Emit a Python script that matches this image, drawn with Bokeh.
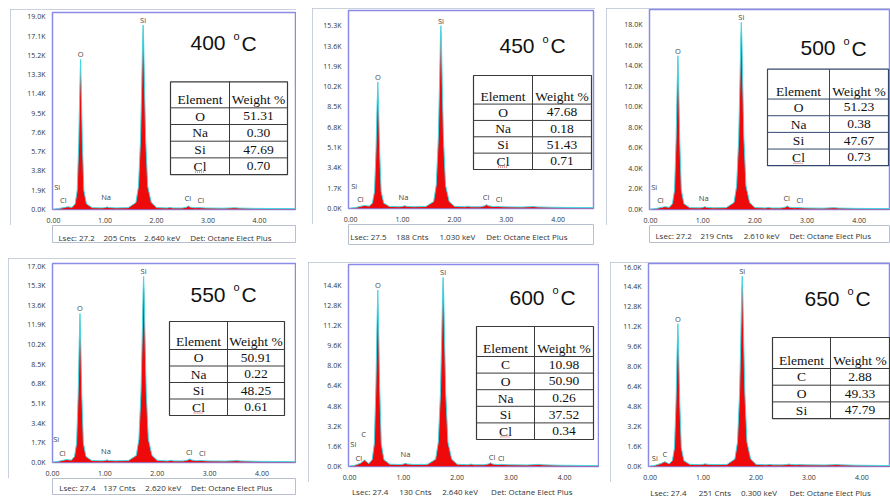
from bokeh.plotting import figure
from bokeh.layouts import row, column
from bokeh.models import Range1d, FixedTicker
from bokeh.embed import file_html
from bokeh.resources import INLINE
from bokeh.core.properties import value

# ---------------- data ----------------
energy_kev = [0.00, 0.10, 0.20, 0.25, 0.28, 0.31, 0.36, 0.42, 0.46, 0.49, 0.51, 0.525, 0.54, 0.56,
              0.59, 0.64, 0.75, 0.95, 1.01, 1.04, 1.07, 1.20, 1.45, 1.60, 1.65, 1.69, 1.715, 1.73,
              1.74, 1.75, 1.765, 1.79, 1.83, 1.90, 2.00, 2.20, 2.26, 2.32, 2.50, 2.58, 2.62, 2.66,
              2.75, 2.82, 2.95, 3.30, 3.45, 3.52, 3.60, 3.90, 4.40, 5.00]

counts_400 = [30, 90, 190, 240, 270, 240, 210, 560, 1880, 6700, 11850, 14800, 11850, 6700, 1880, 560,
              180, 160, 200, 260, 200, 160, 180, 680, 2280, 6980, 12750, 16750, 18200, 16750, 12750,
              6980, 2280, 680, 190, 150, 200, 150, 150, 230, 340, 230, 170, 190, 150, 130, 160, 180,
              140, 110, 90, 70]
counts_450 = [30, 90, 190, 240, 260, 230, 200, 450, 1400, 4850, 8500, 10600, 8500, 4850, 1400, 450,
              170, 150, 190, 240, 190, 150, 170, 580, 1950, 5870, 10720, 14080, 15300, 14080, 10720,
              5870, 1950, 580, 180, 140, 190, 140, 140, 220, 320, 220, 160, 180, 140, 120, 150, 170,
              130, 100, 80, 60]
counts_500 = [30, 90, 200, 250, 280, 250, 210, 570, 1900, 6800, 12000, 15000, 12000, 6800, 1900, 570,
              180, 160, 210, 280, 210, 160, 180, 680, 2290, 7000, 12800, 16800, 18250, 16800, 12800,
              7000, 2290, 680, 190, 150, 200, 150, 150, 230, 350, 230, 170, 190, 150, 130, 160, 180,
              140, 110, 90, 70]
counts_550 = [30, 90, 190, 240, 260, 230, 200, 510, 1670, 5900, 10350, 12900, 10350, 5900, 1670, 510,
              170, 150, 180, 230, 180, 150, 170, 610, 2040, 6200, 11300, 14820, 16100, 14820, 11300,
              6200, 2040, 610, 180, 140, 190, 140, 140, 210, 310, 210, 160, 180, 140, 120, 150, 170,
              130, 100, 80, 60]
counts_600 = [30, 100, 260, 420, 520, 400, 230, 540, 1800, 6400, 11250, 14000, 11250, 6400, 1800, 540,
              180, 160, 200, 260, 200, 160, 170, 580, 1920, 5780, 10520, 13810, 15000, 13810, 10520,
              5780, 1920, 580, 180, 140, 190, 140, 140, 200, 290, 200, 150, 170, 140, 120, 150, 170,
              130, 100, 80, 60]
counts_650 = [30, 100, 230, 330, 380, 320, 210, 460, 1470, 5200, 9150, 11400, 9150, 5200, 1470, 460,
              170, 150, 180, 220, 180, 150, 160, 590, 1940, 5850, 10660, 13990, 15200, 13990, 10660,
              5850, 1940, 590, 170, 130, 170, 130, 130, 160, 200, 160, 140, 150, 130, 120, 140, 160,
              130, 100, 80, 60]
spectra = [counts_400, counts_450, counts_500, counts_550, counts_600, counts_650]

temperatures = ["400", "450", "500", "550", "600", "650"]
y_tick_top_k = [19.0, 15.3, 18.0, 17.0, 14.4, 16.0]
y_tick_step_k = [1.9, 1.7, 2.0, 1.7, 1.6, 1.6]
x_tick_values = [0, 1, 2, 3, 4]
x_tick_labels = ["0.00", "1.00", "2.00", "3.00", "4.00"]

table_elements = [["O", "Na", "Si", "Cl"], ["O", "Na", "Si", "Cl"], ["O", "Na", "Si", "Cl"],
                  ["O", "Na", "Si", "Cl"], ["C", "O", "Na", "Si", "Cl"], ["C", "O", "Si"]]
table_weights = [["51.31", "0.30", "47.69", "0.70"], ["47.68", "0.18", "51.43", "0.71"],
                 ["51.23", "0.38", "47.67", "0.73"], ["50.91", "0.22", "48.25", "0.61"],
                 ["10.98", "50.90", "0.26", "37.52", "0.34"], ["2.88", "49.33", "47.79"]]

status_lsec = ["27.2", "27.5", "27.2", "27.4", "27.4", "27.4"]
status_cnts = ["205", "188", "219", "137", "130", "251"]
status_kev = ["2.640", "1.030", "2.610", "2.620", "2.640", "0.300"]
detector = "Det: Octane Elect Plus"

peak_top_names = ["O", "Si"]
peak_top_energy = [0.525, 1.74]
low_label_names = [["Si", "Cl", "Na", "Cl", "Cl"]] * 4 + [["Si", "C", "Cl", "Na", "Cl", "Cl"], ["Si", "C"]]
low_label_energy = [[0.07, 0.19, 1.02, 2.61, 2.86]] * 4 + [[0.07, 0.26, 0.17, 1.04, 2.65, 2.82], [0.09, 0.28]]

# ---------------- layout / style (pixels) ----------------
LAYOUT = [
    dict(w=286, h=216, margin=(9, 4, 0, 10), ml=42, mr=1, mt=3, mb=14, x=(-0.02, 4.70), y_end=19430,
         tbl=(118, 235, 177, 70, 96.3, 16.85), title=(138, 31), low_px=[23, 10, 13, 12, 10], tc="#3a3a3a",
         sh=18, smargin=(0, 4, 7, 10), sbox=True, sx=(7, 60, 108, 162), sy=12),
    dict(w=283, h=216, margin=(8, 5, 0, 12), ml=36, mr=2, mt=2, mb=13, x=(-0.04, 4.68), y_end=16580,
         tbl=(125, 243, 184, 66, 95, 16.6), title=(151, 36), low_px=[23, 10, 12, 12, 10], tc="#3a3a3a",
         sh=21, smargin=(0, 5, 5, 12), sbox=True, sx=(2, 55, 105, 159), sy=12),
    dict(w=284, h=217, margin=(8, 0, 0, 6), ml=43, mr=0, mt=1, mb=15, x=(-0.02, 4.60), y_end=19510,
         tbl=(118, 239, 180, 60, 90, 16.75), title=(151, 39), low_px=[23, 10, 12, 12, 10], tc="#34486e",
         sh=18, smargin=(0, 0, 7, 6), sbox=True, sx=(7, 60, 111, 165), sy=10),
    dict(w=288, h=220, margin=(8, 4, 0, 8), ml=44, mr=1, mt=5, mb=16, x=(0.0, 4.64), y_end=17220,
         tbl=(117, 232, 175, 58, 86, 16.5), title=(138, 31), low_px=[24, 10, 12, 11, 10], tc="#3a3a3a",
         sh=17, smargin=(0, 4, 2, 8), sbox=True, sx=(8, 60, 110, 164), sy=9),
    dict(w=291, h=220, margin=(12, 1, 0, 8), ml=40, mr=1, mt=2, mb=16, x=(-0.02, 4.63), y_end=16030,
         tbl=(128, 245, 186, 62, 92, 16.6), title=(161, 33), low_px=[23, 33, 9, 13, 10, 9], tc="#3a3a3a",
         sh=15, smargin=(0, 1, 0, 8), sbox=False, sx=(4, 59, 109, 166), sy=9),
    dict(w=280, h=220, margin=(12, 0, 0, 10), ml=38, mr=0, mt=1, mb=16, x=(-0.03, 4.54), y_end=16200,
         tbl=(124, 241, 182, 74, 105, 16.7), title=(156, 35), low_px=[9, 13], tc="#3a3a3a",
         sh=15, smargin=(0, 0, 0, 10), sbox=False, sx=(2, 58, 107, 163), sy=10),
]

SMALL_FONT = value("Open Sans")
RED = "#ee0a0a"
CYAN = "#45d8e4"
GRAY_FRAME = "#b8c0d0"


def make_panel(i):
    lay = LAYOUT[i]
    fw = lay["w"] - lay["ml"] - lay["mr"]
    fh = lay["h"] - lay["mt"] - lay["mb"]
    p = figure(width=lay["w"], height=lay["h"], output_backend="svg", toolbar_location=None,
               title=None, x_range=Range1d(*lay["x"]), y_range=Range1d(0, lay["y_end"]),
               min_border_left=lay["ml"], min_border_right=lay["mr"],
               min_border_top=lay["mt"], min_border_bottom=lay["mb"], margin=lay["margin"],
               styles={"outline": f"1px solid {GRAY_FRAME}", "outline-offset": "-1px"})
    p.extra_x_ranges = {"px": Range1d(0, fw)}
    p.extra_y_ranges = {"px": Range1d(fh, 0)}
    p.background_fill_color = "white"
    p.border_fill_color = "white"
    p.outline_line_color = "#8a8ae8"
    p.outline_line_width = 1.5
    p.grid.visible = False

    # axes
    step = int(round(y_tick_step_k[i] * 1000))
    n = int(round(y_tick_top_k[i] / y_tick_step_k[i]))
    yt = [k * step for k in range(n + 1)]
    p.yaxis.ticker = FixedTicker(ticks=yt)
    p.yaxis.major_label_overrides = {t: f"{t / 1000:.1f}K" for t in yt}
    p.xaxis.ticker = FixedTicker(ticks=x_tick_values)
    p.xaxis.major_label_overrides = dict(zip(x_tick_values, x_tick_labels))
    for ax in (p.xaxis, p.yaxis):
        ax.axis_line_color = None
        ax.major_tick_line_color = None
        ax.minor_tick_line_color = None
        ax.major_label_text_font = "Open Sans"
        ax.major_label_text_font_size = "7px"
        ax.major_label_text_color = "#333333"
    p.yaxis.major_label_standoff = 1
    p.xaxis.major_label_standoff = 2

    # spectrum
    c = spectra[i]
    p.varea(x=energy_kev, y1=0, y2=c, fill_color=RED)
    p.line(x=energy_kev, y=c, line_color=CYAN, line_width=1)

    # peak labels
    top_y = [c[energy_kev.index(e)] for e in peak_top_energy]
    p.text(x=peak_top_energy, y=top_y, text=peak_top_names, y_offset=-5,
           text_font=SMALL_FONT, text_font_size="7.5px", text_color="#444444",
           text_align="center", text_baseline="middle")
    p.text(x=low_label_energy[i], y=[fh - h for h in lay["low_px"]], text=low_label_names[i],
           y_range_name="px", text_font=SMALL_FONT, text_font_size="7.5px",
           text_color="#444444", text_align="center", text_baseline="middle")

    # title "400 oC"
    tx, ty = lay["title"]
    kw = dict(x_range_name="px", y_range_name="px", text_font=value("Liberation Sans"),
              text_color="#111111", text_baseline="alphabetic", text_align="left")
    p.text(x=[tx], y=[ty], text=[temperatures[i]], text_font_size="21px", **kw)
    p.text(x=[tx + 43], y=[ty - 7.5], text=["o"], text_font_size="11px", **kw)
    p.text(x=[tx + 51], y=[ty], text=["C"], text_font_size="21px", **kw)

    # table
    L, R, D, T, HB, RH = lay["tbl"]
    elems = table_elements[i]
    wts = table_weights[i]
    nr = len(elems)
    B = HB + nr * RH
    tkw = dict(x_range_name="px", y_range_name="px")
    p.quad(left=[L], right=[R], top=[T], bottom=[B], fill_color="white",
           line_color=lay["tc"], line_width=1.2, **tkw)
    hy = [HB + k * RH for k in range(nr)]
    p.segment(x0=[L] * nr, x1=[R] * nr, y0=hy, y1=hy, line_color=lay["tc"], line_width=1, **tkw)
    p.segment(x0=[D], x1=[D], y0=[T], y1=[B], line_color=lay["tc"], line_width=1, **tkw)
    fkw = dict(text_font=value("Liberation Serif"), text_font_size="13.5px", text_color="#111111",
               text_align="center", text_baseline="middle", **tkw)
    p.text(x=[(L + D) / 2, (D + R) / 2], y=[HB - 8, HB - 8], text=["Element", "Weight %"], **fkw)
    ry = [HB + (k + 0.5) * RH for k in range(nr)]
    p.text(x=[(L + D) / 2] * nr, y=ry, text=elems, **fkw)
    p.text(x=[(D + R) / 2] * nr, y=ry, text=wts, **fkw)
    if "Cl" in elems:
        k = elems.index("Cl")
        cx = (L + D) / 2
        yy = HB + (k + 1) * RH - 2.5
        p.segment(x0=[cx - 5], x1=[cx + 5], y0=[yy], y1=[yy], line_color="#e04040",
                  line_width=1, line_dash="1 1", **tkw)

    # status bar
    s = figure(width=lay["w"], height=lay["sh"], output_backend="svg", toolbar_location=None,
               title=None, x_axis_type=None, y_axis_type=None, margin=lay["smargin"],
               x_range=Range1d(0, lay["w"]), y_range=Range1d(lay["sh"], 0),
               min_border_left=0, min_border_right=0, min_border_top=0, min_border_bottom=0)
    s.grid.visible = False
    s.background_fill_color = "white"
    s.border_fill_color = "white"
    s.outline_line_color = GRAY_FRAME if lay["sbox"] else None
    s.outline_line_width = 1
    texts = [f"Lsec: {status_lsec[i]}", f"{status_cnts[i]} Cnts", f"{status_kev[i]} keV", detector]
    s.text(x=list(lay["sx"]), y=[lay["sy"]] * 4, text=texts, text_font=SMALL_FONT,
           text_font_size="8px", text_color="#333333", text_baseline="middle", text_align="left")
    return column(p, s, spacing=0)


panels = [make_panel(i) for i in range(6)]
layout = column(row(*panels[:3], spacing=0), row(*panels[3:], spacing=0), spacing=0)

open("out.html", "w").write(file_html(layout, INLINE))
